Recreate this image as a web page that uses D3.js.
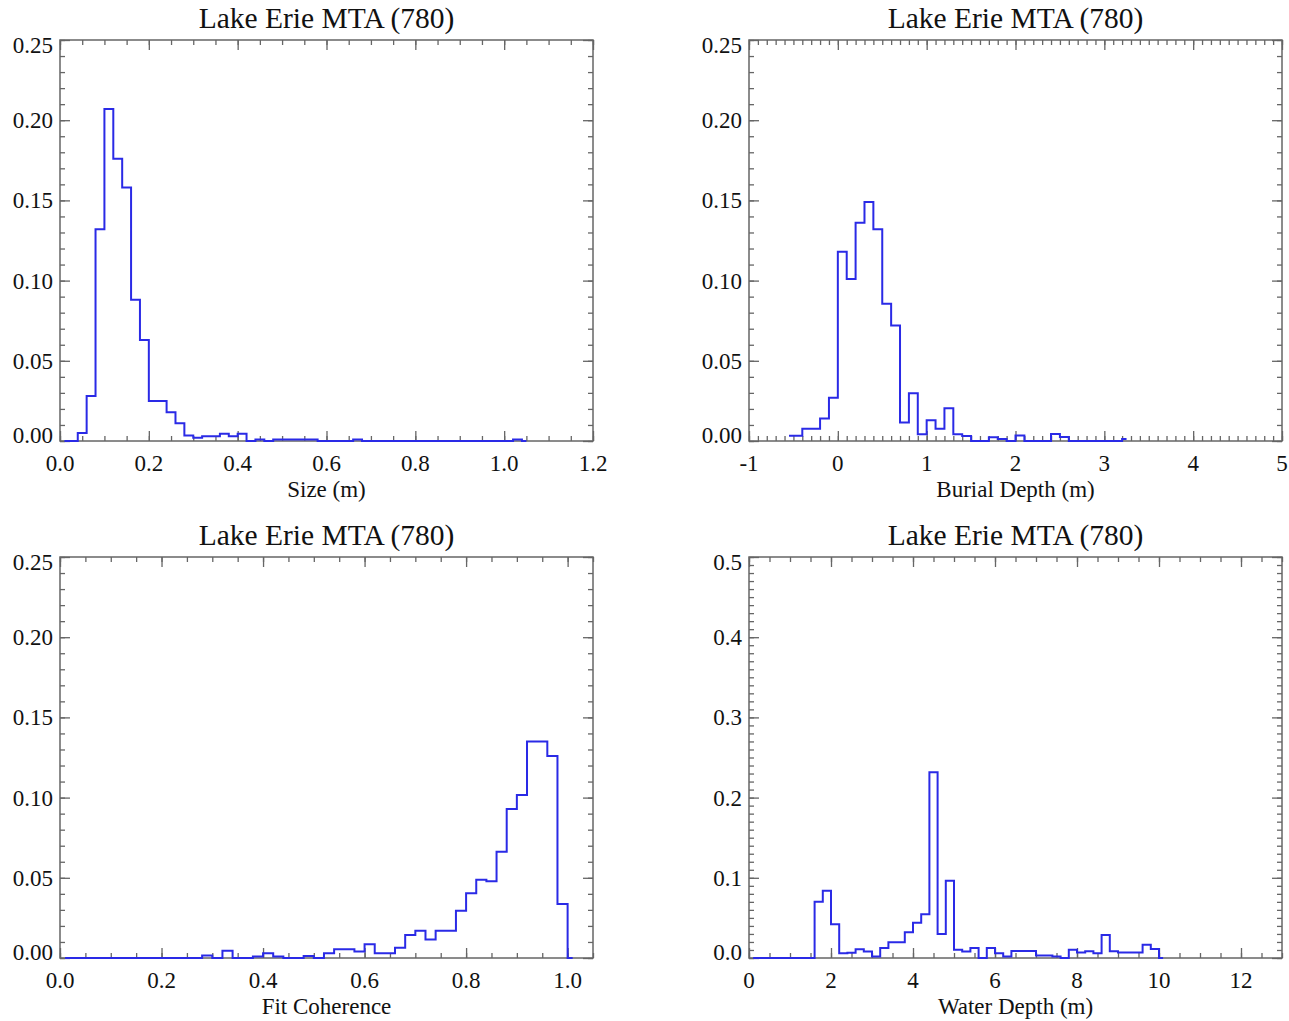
<!DOCTYPE html>
<html><head><meta charset="utf-8">
<script src="https://cdn.jsdelivr.net/npm/d3@7"></script>
<style>body{margin:0;background:#fff} svg{display:block}</style>
</head><body>
<svg id="c" width="1289" height="1021"></svg>
<script>
const titleText = "Lake Erie MTA (780)";

// Panel 1: Size (m) — bin centres and relative frequency
const sizeBins = [0.01,0.03,0.05,0.07,0.09,0.11,0.13,0.15,0.17,0.19,0.21,0.23,0.25,0.27,0.29,0.31,0.33,0.35,0.37,0.39,0.41,0.43,0.45,0.47,0.49,0.51,0.53,0.55,0.57,0.59,0.61,0.63,0.65,0.67,0.69,0.71,0.73,0.75,0.77,0.79,0.81,0.83,0.85,0.87,0.89,0.91,0.93,0.95,0.97,0.99,1.01,1.03,1.05];
const sizeFreq = [0,0,0.005,0.028,0.132,0.207,0.176,0.158,0.088,0.063,0.025,0.025,0.018,0.011,0.0035,0.002,0.003,0.003,0.0045,0.003,0.0045,0,0.001,0,0.001,0.001,0.001,0.001,0.001,0,0,0,0,0.001,0,0,0,0,0,0,0,0,0,0,0,0,0,0,0,0,0,0.001,0];

// Panel 2: Burial Depth (m)
const burialBins = [-0.55,-0.45,-0.35,-0.25,-0.15,-0.05,0.05,0.15,0.25,0.35,0.45,0.55,0.65,0.75,0.85,0.95,1.05,1.15,1.25,1.35,1.45,1.55,1.65,1.75,1.85,1.95,2.05,2.15,2.25,2.35,2.45,2.55,2.65,2.75,2.85,2.95,3.05,3.15,3.25];
const burialFreq = [0.0033,0.0033,0.0077,0.0077,0.014,0.027,0.118,0.101,0.136,0.149,0.132,0.0856,0.072,0.0116,0.0297,0.0042,0.0129,0.0077,0.0204,0.0042,0.0031,0,0,0.0023,0.0012,0,0.0035,0,0,0,0.0044,0.0025,0,0,0,0,0,0,0.0012];

// Panel 3: Fit Coherence
const coherenceBins = [0.01,0.03,0.05,0.07,0.09,0.11,0.13,0.15,0.17,0.19,0.21,0.23,0.25,0.27,0.29,0.31,0.33,0.35,0.37,0.39,0.41,0.43,0.45,0.47,0.49,0.51,0.53,0.55,0.57,0.59,0.61,0.63,0.65,0.67,0.69,0.71,0.73,0.75,0.77,0.79,0.81,0.83,0.85,0.87,0.89,0.91,0.93,0.95,0.97,0.99,1.01];
const coherenceFreq = [0,0,0,0,0,0,0,0,0,0,0,0,0,0,0.0015,0,0.0045,0,0,0.001,0.003,0.001,0,0,0.0013,0,0.003,0.0055,0.0055,0.004,0.0085,0.003,0.003,0.0064,0.0143,0.017,0.0116,0.017,0.017,0.0295,0.0403,0.0488,0.0478,0.0663,0.0929,0.1016,0.135,0.135,0.126,0.0337,0];

// Panel 4: Water Depth (m)
const waterBins = [0.1,0.3,0.5,0.7,0.9,1.1,1.3,1.5,1.7,1.9,2.1,2.3,2.5,2.7,2.9,3.1,3.3,3.5,3.7,3.9,4.1,4.3,4.5,4.7,4.9,5.1,5.3,5.5,5.7,5.9,6.1,6.3,6.5,6.7,6.9,7.1,7.3,7.5,7.7,7.9,8.1,8.3,8.5,8.7,8.9,9.1,9.3,9.5,9.7,9.9,10.1];
const waterFreq = [0,0,0,0,0,0,0,0,0.070,0.084,0.042,0.006,0.0066,0.011,0.008,0.002,0.0125,0.0195,0.0195,0.032,0.044,0.0545,0.2315,0.030,0.0964,0.0104,0.008,0.0125,0,0.0125,0.006,0.002,0.0087,0.0087,0.0087,0.003,0.003,0.002,0,0.0104,0.007,0.0083,0.006,0.0287,0.0083,0.007,0.007,0.007,0.0166,0.0112,0];

// Tick values / labels
const sizeTicks = [0,0.2,0.4,0.6,0.8,1.0,1.2];
const sizeTickLabels = ["0.0","0.2","0.4","0.6","0.8","1.0","1.2"];
const burialTicks = [-1,0,1,2,3,4,5];
const burialTickLabels = ["-1","0","1","2","3","4","5"];
const coherenceTicks = [0,0.2,0.4,0.6,0.8,1.0];
const coherenceTickLabels = ["0.0","0.2","0.4","0.6","0.8","1.0"];
const waterTicks = [0,2,4,6,8,10,12];
const waterTickLabels = ["0","2","4","6","8","10","12"];
const freqTicks = [0,0.05,0.10,0.15,0.20,0.25];
const freqTickLabels = ["0.00","0.05","0.10","0.15","0.20","0.25"];
const waterFreqTicks = [0,0.1,0.2,0.3,0.4,0.5];
const waterFreqTickLabels = ["0.0","0.1","0.2","0.3","0.4","0.5"];

const PW = 533, PH = 401;
const FONT = "'Liberation Serif','Times New Roman',serif";
const AXIS = "#666";
const LINE = "#2a2ae6";

const panels = [
  {left:60, top:40, bins:sizeBins, freq:sizeFreq, xDomain:[0,1.2], xTicks:sizeTicks, xLabels:sizeTickLabels, xMinor:0.05, yDomain:[0,0.25], yTicks:freqTicks, yLabels:freqTickLabels, yMinor:0.01, xTitle:"Size (m)"},
  {left:749, top:40, bins:burialBins, freq:burialFreq, xDomain:[-1,5], xTicks:burialTicks, xLabels:burialTickLabels, xMinor:0.1, yDomain:[0,0.25], yTicks:freqTicks, yLabels:freqTickLabels, yMinor:0.01, xTitle:"Burial Depth (m)"},
  {left:60, top:557, bins:coherenceBins, freq:coherenceFreq, xDomain:[0,1.05], xTicks:coherenceTicks, xLabels:coherenceTickLabels, xMinor:0.05, yDomain:[0,0.25], yTicks:freqTicks, yLabels:freqTickLabels, yMinor:0.01, xTitle:"Fit Coherence"},
  {left:749, top:557, bins:waterBins, freq:waterFreq, xDomain:[0,13], xTicks:waterTicks, xLabels:waterTickLabels, xMinor:0.5, yDomain:[0,0.5], yTicks:waterFreqTicks, yLabels:waterFreqTickLabels, yMinor:0.01, xTitle:"Water Depth (m)"}
];

const svg = d3.select("#c");
svg.append("rect").attr("width",1289).attr("height",1021).attr("fill","#fff");

function styleAxis(sel){
  sel.select(".domain").remove();
  sel.selectAll(".tick line").attr("stroke",AXIS).attr("stroke-width",1.3);
  sel.selectAll(".tick text").remove();
}

panels.forEach(p => {
  const g = svg.append("g").attr("transform",`translate(${p.left},${p.top})`);
  const x = d3.scaleLinear().domain(p.xDomain).range([0,PW]);
  const y = d3.scaleLinear().domain(p.yDomain).range([PH,0]);

  const minorX = d3.range(p.xDomain[0], p.xDomain[1] + 1e-9, p.xMinor);
  const minorY = d3.range(p.yDomain[0], p.yDomain[1] + 1e-9, p.yMinor);

  // minor ticks (inward, all four sides)
  g.append("g").attr("transform",`translate(0,${PH})`).call(d3.axisBottom(x).tickValues(minorX).tickSize(-5)).call(styleAxis);
  g.append("g").call(d3.axisTop(x).tickValues(minorX).tickSize(-5)).call(styleAxis);
  g.append("g").call(d3.axisLeft(y).tickValues(minorY).tickSize(-5)).call(styleAxis);
  g.append("g").attr("transform",`translate(${PW},0)`).call(d3.axisRight(y).tickValues(minorY).tickSize(-5)).call(styleAxis);
  // major ticks
  g.append("g").attr("transform",`translate(0,${PH})`).call(d3.axisBottom(x).tickValues(p.xTicks).tickSize(-10)).call(styleAxis);
  g.append("g").call(d3.axisTop(x).tickValues(p.xTicks).tickSize(-10)).call(styleAxis);
  g.append("g").call(d3.axisLeft(y).tickValues(p.yTicks).tickSize(-10)).call(styleAxis);
  g.append("g").attr("transform",`translate(${PW},0)`).call(d3.axisRight(y).tickValues(p.yTicks).tickSize(-10)).call(styleAxis);

  // frame
  g.append("rect").attr("width",PW).attr("height",PH).attr("fill","none").attr("stroke",AXIS).attr("stroke-width",1.5);

  // histogram (psym=10 style steps at midpoints)
  const line = d3.line().x((d,i)=>x(p.bins[i])).y(d=>y(d)).curve(d3.curveStep);
  g.append("path").datum(p.freq).attr("d",line).attr("fill","none").attr("stroke",LINE).attr("stroke-width",2).attr("stroke-linejoin","miter");

  // x labels
  g.selectAll(".xl").data(p.xTicks).enter().append("text")
    .attr("x",d=>x(d)).attr("y",PH+22).attr("dy","0.35em")
    .attr("text-anchor","middle").attr("font-family",FONT).attr("font-size",23).attr("fill","#111")
    .text((d,i)=>p.xLabels[i]);
  // y labels
  const n = p.yTicks.length;
  g.selectAll(".yl").data(p.yTicks).enter().append("text")
    .attr("x",-7).attr("y",(d,i)=>y(d) + (i===0 ? -6 : (i===n-1 ? 5 : 0))).attr("dy","0.35em")
    .attr("text-anchor","end").attr("font-family",FONT).attr("font-size",23).attr("fill","#111")
    .text((d,i)=>p.yLabels[i]);
  // axis title
  g.append("text").attr("x",PW/2).attr("y",PH+48).attr("dy","0.35em")
    .attr("text-anchor","middle").attr("font-family",FONT).attr("font-size",23).attr("fill","#111")
    .text(p.xTitle);
  // panel title
  g.append("text").attr("x",PW/2).attr("y",-22).attr("dy","0.35em")
    .attr("text-anchor","middle").attr("font-family",FONT).attr("font-size",29.5).attr("fill","#111")
    .text(titleText);
});
</script>
</body></html>
